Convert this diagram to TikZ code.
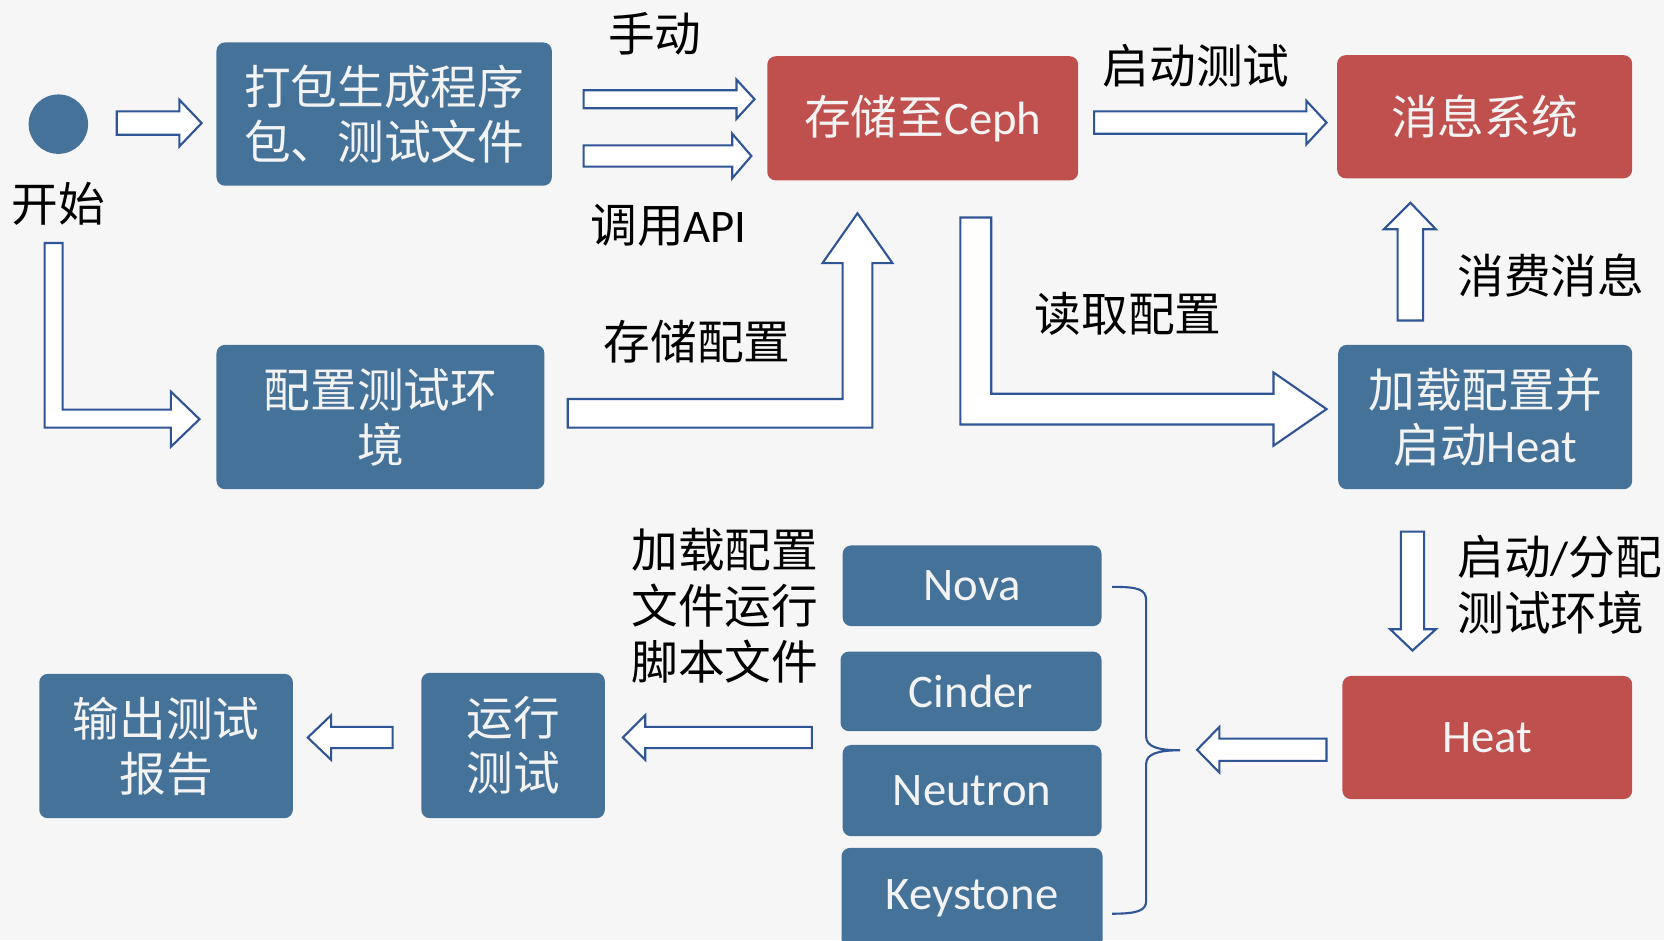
\documentclass[tikz,border=0pt]{standalone}
\usepackage{fontspec}
\setmainfont{Carlito}
\newfontfamily\cjk{Noto Sans CJK SC}
\definecolor{boxblue}{RGB}{69,114,153}
\definecolor{boxred}{RGB}{192,80,77}
\definecolor{arrowblue}{RGB}{47,85,151}
\definecolor{bgcol}{RGB}{246,246,246}
\definecolor{boxtext}{RGB}{243,243,243}
\begin{document}
\begin{tikzpicture}[x=0.5pt,y=-0.5pt,
  box/.style={rectangle, rounded corners=4pt, fill=boxblue, text=boxtext, align=center, inner sep=0pt, font=\fontsize{22}{26}\selectfont\cjk},
  redbox/.style={box, fill=boxred},
  latinbox/.style={box, font=\fontsize{22}{26}\selectfont\rmfamily},
  lbl/.style={text=black, inner sep=0pt, font=\fontsize{22}{26.5}\selectfont\cjk},
  blockarrow/.style={draw=arrowblue, line width=1pt, fill=white, line join=miter},
  bracestyle/.style={draw=arrowblue, line width=1pt}
]
\useasboundingbox (0,0) rectangle (1568,886);
\clip (0,0) rectangle (1568,886);
\fill[bgcol] (0,0) rectangle (1568,886);

% nodes
\node[circle, fill=boxblue, minimum size=28pt, inner sep=0pt] (start) at (55,117) {};
\node[lbl] (startlbl) at (55,192) {开始};

\node[box, minimum width=158pt, minimum height=67.5pt] (pack) at (362,107.5) {打包生成程序\\包、测试文件};
\node[redbox, minimum width=146.5pt, minimum height=58.5pt] (ceph) at (869.5,111.5) {存储至{\rmfamily Ceph}};
\node[redbox, minimum width=139pt, minimum height=58pt] (msg) at (1399,110) {消息系统};
\node[box, minimum width=138.5pt, minimum height=68pt] (load) at (1399.5,393) {加载配置并\\启动{\rmfamily Heat}};
\node[box, minimum width=154.5pt, minimum height=68pt] (cfg) at (358.5,393) {配置测试环\\境};
\node[redbox, minimum width=136.5pt, minimum height=58pt, font=\fontsize{22}{26}\selectfont\rmfamily] (heat) at (1401.5,695) {Heat};
\node[latinbox, minimum width=122pt, minimum height=38pt] (nova) at (916,552) {Nova};
\node[latinbox, minimum width=123pt, minimum height=37.5pt] (cinder) at (915,651.5) {Cinder};
\node[latinbox, minimum width=122pt, minimum height=43pt] (neutron) at (916,745) {Neutron};
\node[latinbox, minimum width=123pt, minimum height=47pt] (keystone) at (916,846) {Keystone};
\node[box, minimum width=86.5pt, minimum height=68.5pt] (run) at (483.5,702.5) {运行\\测试};
\node[box, minimum width=119.5pt, minimum height=68pt] (out) at (156.5,703) {输出测试\\报告};

% labels
\node[lbl] (l1) at (617,32) {手动};
\node[lbl] (l2) at (630,212) {调用{\rmfamily API}};
\node[lbl] (l3) at (657,322) {存储配置};
\node[lbl] (l4) at (1127,62) {启动测试};
\node[lbl] (l5) at (1063,296) {读取配置};
\node[lbl, anchor=west] (l6) at (1373,260) {消费消息};
\node[lbl, anchor=west, align=left] (l7) at (1373,551) {启动{\rmfamily /}分配\\测试环境};
\node[lbl, align=center, font=\fontsize{22}{26.5}\selectfont\cjk] (l8) at (683,571) {加载配置\\文件运行\\脚本文件};

% block arrows
\draw[blockarrow] (110,105) -- (169,105) -- (169,94) -- (190,116) -- (169,138) -- (169,127) -- (110,127) -- cycle;
\draw[blockarrow] (550,85) -- (694,85) -- (694,75) -- (711,93.5) -- (694,112) -- (694,102) -- (550,102) -- cycle;
\draw[blockarrow] (550,137) -- (690,137) -- (690,126) -- (708,147) -- (690,168) -- (690,157) -- (550,157) -- cycle;
\draw[blockarrow] (1031,105) -- (1231,105) -- (1231,95) -- (1250,115.5) -- (1231,136) -- (1231,126) -- (1031,126) -- cycle;
\draw[blockarrow] (1317,302) -- (1317,216) -- (1304,216) -- (1329,191) -- (1353,216) -- (1341,216) -- (1341,302) -- cycle;
\draw[blockarrow] (905,205) -- (934,205) -- (934,371) -- (1200,371) -- (1200,351) -- (1250,385.5) -- (1200,420) -- (1200,400) -- (905,400) -- cycle;
\draw[blockarrow] (42,229) -- (59,229) -- (59,386) -- (161,386) -- (161,369) -- (188,395) -- (161,421) -- (161,403) -- (42,403) -- cycle;
\draw[blockarrow] (535,376) -- (794,376) -- (794,248) -- (775,248) -- (808,201) -- (841,248) -- (822,248) -- (822,403) -- (535,403) -- cycle;
\draw[blockarrow] (1320,501) -- (1342,501) -- (1342,593) -- (1353,593) -- (1331,613) -- (1310,593) -- (1320,593) -- cycle;
\draw[blockarrow] (1250,696) -- (1149,696) -- (1149,685) -- (1128,706.5) -- (1149,728) -- (1149,717) -- (1250,717) -- cycle;
\draw[blockarrow] (765,685) -- (608,685) -- (608,674) -- (587,695) -- (608,716) -- (608,705) -- (765,705) -- cycle;
\draw[blockarrow] (370,685) -- (312,685) -- (312,674) -- (290,695) -- (312,716) -- (312,705) -- (370,705) -- cycle;

% brace
\draw[bracestyle] (1048,553) .. controls (1072,553) and (1080,555) .. (1080,566) -- (1080,694)
  .. controls (1080,704) and (1092,707) .. (1112,707)
  .. controls (1092,707) and (1080,710) .. (1080,720) -- (1080,849)
  .. controls (1080,858) and (1072,861) .. (1048,861);
\end{tikzpicture}
\end{document}
